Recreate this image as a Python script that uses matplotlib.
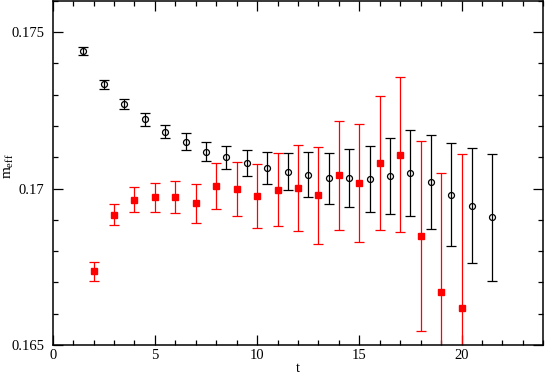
import numpy as np
import matplotlib
matplotlib.use("Agg")
import matplotlib.pyplot as plt
from matplotlib.ticker import MultipleLocator

# black open circles (half-integer t)
t_black = [1.5, 2.5, 3.5, 4.5, 5.5, 6.5, 7.5, 8.5, 9.5, 10.5, 11.5,
           12.5, 13.5, 14.5, 15.5, 16.5, 17.5, 18.5, 19.5, 20.5, 21.5]
m_black = [0.17440, 0.17333, 0.17269, 0.17221, 0.17182, 0.17150, 0.17118,
           0.17100, 0.17083, 0.17065, 0.17054, 0.17045, 0.17033, 0.17034,
           0.17031, 0.17041, 0.17050, 0.17022, 0.16981, 0.16945, 0.16908]
err_black = [0.00013, 0.00013, 0.00016, 0.00020, 0.00021, 0.00027, 0.00030,
             0.00036, 0.00042, 0.00051, 0.00060, 0.00071, 0.00082, 0.00094,
             0.00106, 0.00121, 0.00136, 0.00151, 0.00166, 0.00184, 0.00202]

# red filled squares (integer t)
t_red = [2, 3, 4, 5, 6, 7, 8, 9, 10, 11, 12, 13, 14, 15, 16, 17, 18, 19, 20]
m_red = [0.16736, 0.16917, 0.16965, 0.16972, 0.16973, 0.16953, 0.17008,
         0.16998, 0.16977, 0.16996, 0.17003, 0.16978, 0.17042, 0.17018,
         0.17082, 0.17109, 0.16849, 0.16670, 0.16618]
err_red = [0.00030, 0.00034, 0.00040, 0.00047, 0.00050, 0.00063, 0.00074,
           0.00086, 0.00103, 0.00117, 0.00137, 0.00155, 0.00174, 0.00190,
           0.00215, 0.00249, 0.00304, 0.00379, 0.00494]

plt.rcParams['font.family'] = ['Liberation Serif', 'DejaVu Serif']
plt.rcParams['mathtext.fontset'] = 'custom'
plt.rcParams['mathtext.rm'] = 'Liberation Serif'
plt.rcParams['mathtext.it'] = 'Liberation Serif:italic'

fig = plt.figure(figsize=(5.45, 3.74), dpi=100)
ax = fig.add_axes([0.0967, 0.0775, 0.9003, 0.92])

ax.errorbar(t_black, m_black, yerr=err_black, fmt='o', mfc='none', mec='black',
            ms=4.3, mew=0.9, ecolor='black', elinewidth=0.9, capsize=3.6,
            capthick=0.9, color='black')
ax.errorbar(t_red, m_red, yerr=err_red, fmt='s', mfc='red', mec='red',
            ms=4.3, ecolor='red', elinewidth=0.9, capsize=3.6,
            capthick=0.9, color='red')

ax.set_xlim(0, 24)
ax.set_ylim(0.165, 0.176)
ax.xaxis.set_major_locator(MultipleLocator(5))
ax.xaxis.set_minor_locator(MultipleLocator(1))
ax.yaxis.set_major_locator(MultipleLocator(0.005))
ax.yaxis.set_minor_locator(MultipleLocator(0.001))
ax.set_yticks([0.165, 0.17, 0.175])
ax.set_yticklabels(['0.165', '0.17', '0.175'])
ax.tick_params(which='both', direction='in', top=True, right=True,
               labelsize=10.5, width=0.9)
ax.tick_params(which='major', length=7)
ax.tick_params(which='minor', length=3.5)
ax.tick_params(axis='x', which='major', pad=3)
ax.tick_params(axis='y', which='major', pad=6)
for s in ax.spines.values():
    s.set_linewidth(1.1)

ax.set_xlabel('t', fontsize=10.5, labelpad=0)
ax.set_ylabel(r'$\mathrm{m}_{\mathrm{eff}}$', fontsize=11)
ax.yaxis.set_label_coords(-0.074, 0.52)

fig.savefig('out.png', dpi=100)
